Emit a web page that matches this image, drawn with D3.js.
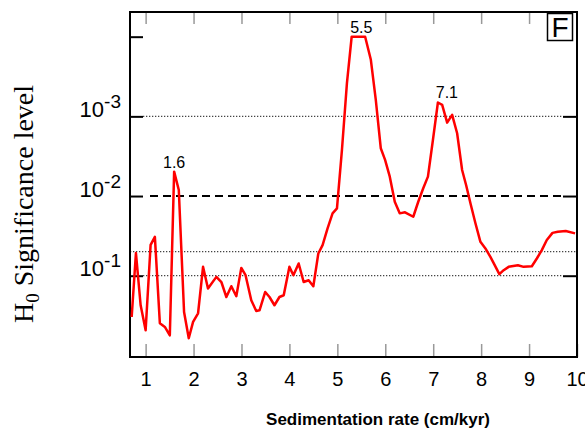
<!DOCTYPE html>
<html lang="en">
<head>
    <meta charset="UTF-8">
    <title>Significance level vs sedimentation rate</title>
    <script src="https://d3js.org/d3.v7.min.js"></script>
    <style>
        body { margin: 0; background: #fff; }
        svg { font-family: "Liberation Sans", Arial, sans-serif; }
    </style>
</head>
<body>
    <div id="chart"></div>

    <script>
        // data ---------------------------------------------------------------
        const rate = [0.709, 0.798, 0.896, 1.0, 1.104, 1.193, 1.297, 1.401, 1.505, 1.595,
            1.692, 1.802, 1.9, 1.99, 2.094, 2.198, 2.301, 2.476, 2.58, 2.684,
            2.788, 2.892, 2.996, 3.085, 3.204, 3.308, 3.376, 3.495, 3.584, 3.688,
            3.792, 3.881, 4.0, 4.083, 4.193, 4.297, 4.401, 4.499, 4.603, 4.692,
            4.796, 4.9, 4.992, 5.096, 5.2, 5.299, 5.58, 5.699, 5.802, 5.906,
            5.996, 6.094, 6.198, 6.301, 6.412, 6.584, 6.688, 6.792, 6.89, 6.994,
            7.098, 7.187, 7.291, 7.395, 7.499, 7.603, 7.686, 7.778, 7.881, 7.985,
            8.089, 8.193, 8.283, 8.38, 8.47, 8.574, 8.767, 8.886, 9.058, 9.162,
            9.266, 9.37, 9.489, 9.599, 9.765, 9.96];
        const pval = [0.33, 0.052, 0.235, 0.485, 0.041, 0.0325, 0.395, 0.44, 0.56, 0.00494,
            0.0084, 0.285, 0.61, 0.38, 0.296, 0.0774, 0.145, 0.1035, 0.12, 0.185,
            0.1355, 0.181, 0.0798, 0.0986, 0.203, 0.277, 0.272, 0.16, 0.185, 0.235,
            0.185, 0.176, 0.0774, 0.0986, 0.0703, 0.12, 0.114, 0.1355, 0.0526, 0.0413,
            0.0255, 0.0165, 0.0143, 0.00264, 0.000382, 0.0001, 0.0001, 0.000195, 0.00062, 0.00251,
            0.00352, 0.00571, 0.0118, 0.0165, 0.016, 0.0182, 0.0118, 0.008, 0.00571, 0.00198,
            0.00067, 0.000716, 0.0012, 0.000957, 0.00163, 0.00471, 0.00728, 0.0124, 0.022, 0.0376,
            0.0455, 0.058, 0.0738, 0.0957, 0.0853, 0.0774, 0.0738, 0.0774, 0.076, 0.0608,
            0.0478, 0.0357, 0.029, 0.0281, 0.0275, 0.0294];

        const xTicks = [1, 2, 3, 4, 5, 6, 7, 8, 9, 10];
        const yTicks = [1e-4, 1e-3, 1e-2, 1e-1];
        const yTickExp = ["", "-3", "-2", "-1"];
        const rightTicks = [1e-3, 1e-2, 1e-1];
        const dottedLevels = [1e-3, 0.1];
        const fullDottedLevels = [0.05];
        const dashedLevel = 0.01;
        const peakRates = [1.595, 5.5, 7.098];
        const peakLabels = ["1.6", "5.5", "7.1"];

        // svg + layout -------------------------------------------------------
        const width = 585, height = 430;
        const margin = {top: 12, bottom: 73, left: 130, right: 8};
        const corner = {top: margin.top, bottom: height - margin.bottom,
            left: margin.left, right: width - margin.right};

        const svg = d3.select("#chart").append("svg")
            .attr("width", width)
            .attr("height", height);

        const xScale = d3.scaleLinear().domain([0.674, 10]).range([corner.left, corner.right]);
        const yScale = d3.scaleLog().domain([1.048, 4.9e-5]).range([corner.bottom, corner.top]);

        // reference lines ------------------------------------------------------
        dottedLevels.forEach(p => {
            svg.append("line")
                .attr("x1", corner.left + 13).attr("x2", corner.right - 14)
                .attr("y1", yScale(p)).attr("y2", yScale(p))
                .attr("stroke", "#444").attr("stroke-width", 1.2)
                .attr("stroke-dasharray", "1.3,1.7");
        });
        fullDottedLevels.forEach(p => {
            svg.append("line")
                .attr("x1", corner.left).attr("x2", corner.right)
                .attr("y1", yScale(p)).attr("y2", yScale(p))
                .attr("stroke", "#444").attr("stroke-width", 1.2)
                .attr("stroke-dasharray", "1.3,1.7");
        });
        svg.append("line")
            .attr("x1", corner.left + 20).attr("x2", corner.right - 14)
            .attr("y1", yScale(dashedLevel)).attr("y2", yScale(dashedLevel))
            .attr("stroke", "#000").attr("stroke-width", 2)
            .attr("stroke-dasharray", "8,5");

        // x axis ticks (bottom + top, grey, pointing inward) -------------------
        const xAxis = d3.axisBottom(xScale).tickValues(xTicks)
            .tickSizeInner(-13).tickSizeOuter(0).tickPadding(15)
            .tickFormat(d3.format("d"));
        const gx = svg.append("g")
            .attr("transform", `translate(0,${corner.bottom})`)
            .call(xAxis);
        gx.select(".domain").remove();
        gx.selectAll(".tick line").attr("stroke", "#999").attr("stroke-width", 1.5);
        gx.selectAll(".tick text")
            .attr("font-size", 20)
            .attr("fill", "#000")
            .attr("font-family", "Liberation Sans, Arial, sans-serif");

        const gxTop = svg.append("g")
            .attr("transform", `translate(0,${corner.top})`)
            .call(d3.axisTop(xScale).tickValues(xTicks.filter(d => d < 10))
                .tickSizeInner(-12).tickSizeOuter(0).tickFormat(""));
        gxTop.select(".domain").remove();
        gxTop.selectAll(".tick line").attr("stroke", "#999").attr("stroke-width", 1.5);

        // y axis ticks (left with labels, right without) ------------------------
        const gy = svg.append("g")
            .attr("transform", `translate(${corner.left},0)`)
            .call(d3.axisLeft(yScale).tickValues(yTicks)
                .tickSizeInner(-13).tickSizeOuter(0).tickPadding(9)
                .tickFormat(() => ""));
        gy.select(".domain").remove();
        gy.selectAll(".tick line").attr("stroke", "#000").attr("stroke-width", 2);
        gy.selectAll(".tick text").each(function (d, i) {
            const t = d3.select(this)
                .attr("dy", 0)
                .attr("fill", "#000")
                .attr("font-family", "Liberation Sans, Arial, sans-serif");
            if (yTickExp[i] === "") return;
            t.append("tspan").attr("font-size", 22).text("10");
            t.append("tspan").attr("font-size", 19).attr("dy", -9).text(yTickExp[i]);
        });

        const gyRight = svg.append("g")
            .attr("transform", `translate(${corner.right},0)`)
            .call(d3.axisRight(yScale).tickValues(rightTicks)
                .tickSizeInner(-14).tickSizeOuter(0).tickFormat(""));
        gyRight.select(".domain").remove();
        gyRight.selectAll(".tick line").attr("stroke", "#000").attr("stroke-width", 2);

        // frame ----------------------------------------------------------------
        svg.append("rect")
            .attr("x", corner.left).attr("y", corner.top)
            .attr("width", corner.right - corner.left)
            .attr("height", corner.bottom - corner.top)
            .attr("fill", "none").attr("stroke", "#000").attr("stroke-width", 2);

        // curve ------------------------------------------------------------------
        const points = rate.map((r, i) => [r, pval[i]]);
        const line = d3.line().x(d => xScale(d[0])).y(d => yScale(d[1]));
        svg.append("path")
            .datum(points)
            .attr("d", line)
            .attr("fill", "none")
            .attr("stroke", "#ff0000")
            .attr("stroke-width", 2.5)
            .attr("stroke-linejoin", "round");

        // peak labels -------------------------------------------------------------
        peakRates.forEach((r, i) => {
            const p = pval[rate.indexOf(r)] || 1e-4;
            svg.append("text")
                .attr("x", xScale(r) + (i === 2 ? 9 : 0))
                .attr("y", yScale(p) - 4)
                .attr("text-anchor", "middle")
                .attr("font-size", 16)
                .text(peakLabels[i]);
        });

        // panel letter --------------------------------------------------------------
        svg.append("rect")
            .attr("x", 547.5).attr("y", 13.5).attr("width", 25).attr("height", 27)
            .attr("fill", "#fff").attr("stroke", "#000").attr("stroke-width", 1.5);
        svg.append("text")
            .attr("x", 560).attr("y", 36.5)
            .attr("text-anchor", "middle")
            .attr("font-size", 28)
            .text("F");

        // axis titles -----------------------------------------------------------------
        svg.append("text")
            .attr("x", 378).attr("y", 425)
            .attr("text-anchor", "middle")
            .attr("font-size", 17)
            .attr("font-weight", "bold")
            .text("Sedimentation rate (cm/kyr)");

        const yTitle = svg.append("text")
            .attr("transform", "translate(33,204) rotate(-90)")
            .attr("text-anchor", "middle")
            .attr("font-family", "Liberation Serif, Times New Roman, serif")
            .attr("font-size", 28);
        yTitle.append("tspan").text("H");
        yTitle.append("tspan").attr("font-size", 19).attr("dy", 6).text("0");
        yTitle.append("tspan").attr("dy", -6).text(" Significance level");
    </script>
</body>
</html>
